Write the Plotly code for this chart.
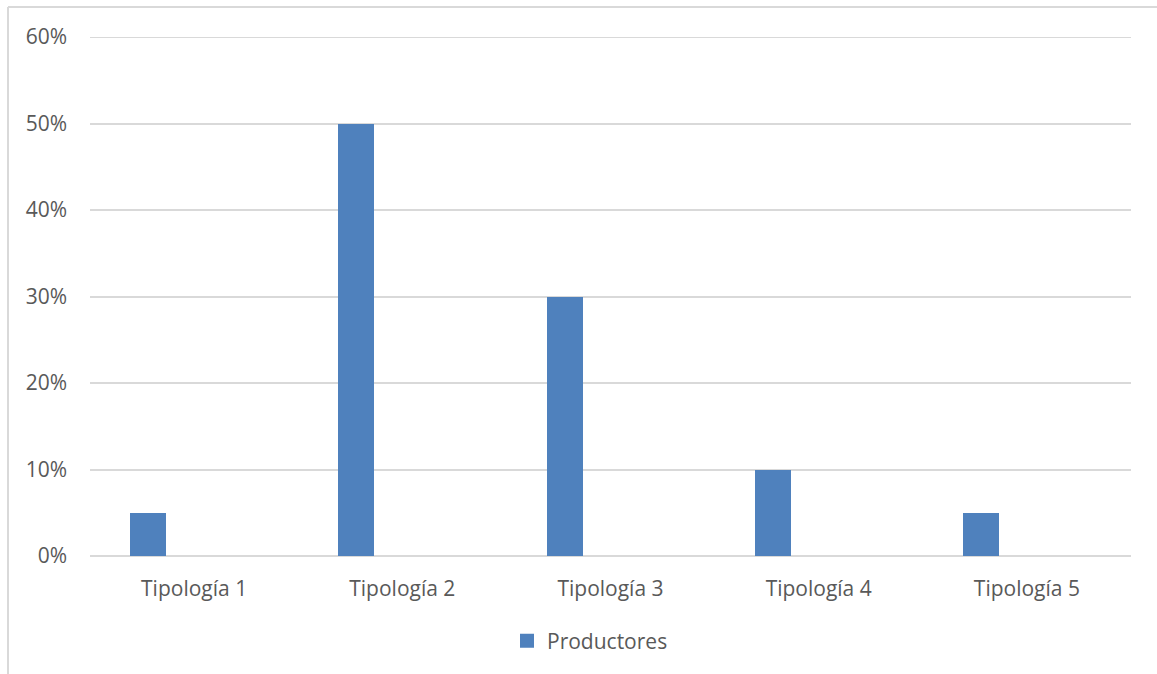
import plotly.graph_objects as go

categories = ["Tipología 1", "Tipología 2", "Tipología 3", "Tipología 4", "Tipología 5"]
productores = [0.05, 0.50, 0.30, 0.10, 0.05]
y_ticks = [0, 0.1, 0.2, 0.3, 0.4, 0.5, 0.6]
y_tick_labels = ["0%", "10%", "20%", "30%", "40%", "50%", "60%"]

TEXT = "#595959"
GRID = "#d9d9d9"
BAR = "#4f81bd"
FONT = "Open Sans"
FS = 21

W, H = 1157, 674
ML, MR, MT, MB = 90, 26, 37, 118

fig = go.Figure()
fig.add_trace(go.Bar(
    x=categories,
    y=productores,
    name="Productores",
    marker=dict(color=BAR, line=dict(width=0)),
    width=0.173,
    offset=-0.307,
    showlegend=False,
    legendgroup="prod",
))
# legend entry with a larger square key
fig.add_trace(go.Scatter(
    x=[None], y=[None], mode="markers", name="Productores",
    marker=dict(symbol="square", size=14, color=BAR),
    legendgroup="prod", hoverinfo="skip",
))

pw = W - ML - MR
ph = H - MT - MB


def px_x(v):
    return (v - ML) / pw


def px_y(v):
    return (H - MB - v) / ph


# chart area frame (top and left edges visible)
fig.add_shape(type="line", xref="paper", yref="paper",
              x0=px_x(8), x1=px_x(W + 5), y0=px_y(7), y1=px_y(7),
              line=dict(color=GRID, width=2))
fig.add_shape(type="line", xref="paper", yref="paper",
              x0=px_x(8), x1=px_x(8), y0=px_y(7), y1=px_y(H + 5),
              line=dict(color=GRID, width=2))
# top gridline at the axis maximum
fig.add_shape(type="line", xref="paper", yref="y",
              x0=0, x1=1, y0=y_ticks[-1], y1=y_ticks[-1],
              line=dict(color=GRID, width=2))

fig.update_layout(
    width=W, height=H,
    margin=dict(l=ML, r=MR, t=MT, b=MB),
    paper_bgcolor="white",
    plot_bgcolor="white",
    font=dict(family=FONT, size=FS, color=TEXT),
    showlegend=True,
    legend=dict(orientation="h", x=px_x(507), xanchor="left", y=px_y(641), yanchor="middle",
                font=dict(family=FONT, size=FS, color=TEXT),
                itemwidth=30),
    xaxis=dict(showgrid=False, showline=False, ticks="", ticklabelstandoff=18,
               tickfont=dict(family=FONT, size=FS, color=TEXT)),
    yaxis=dict(range=[0, 0.6], tickvals=y_ticks, ticktext=y_tick_labels,
               showgrid=True, gridcolor=GRID, gridwidth=1.5, zeroline=True, zerolinecolor=GRID,
               zerolinewidth=1.5, showline=False, ticks="", ticklabelstandoff=22,
               tickfont=dict(family=FONT, size=FS, color=TEXT)),
    bargap=0,
)

fig.write_html("out.html")
